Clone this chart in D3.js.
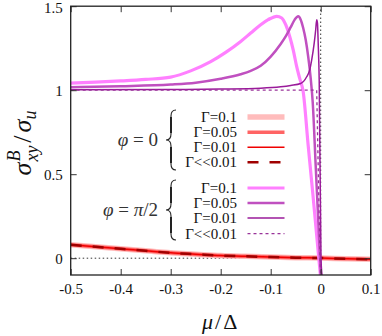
<!DOCTYPE html>
<html><head><meta charset="utf-8">
<script src="https://cdn.jsdelivr.net/npm/d3@7/dist/d3.min.js"></script>
<style>
html,body{margin:0;padding:0;background:#fff;}
svg{display:block;}
</style></head>
<body><svg id="c" width="382" height="336"></svg>
<script>
// ---- data ----
const xTicks = [-0.5, -0.4, -0.3, -0.2, -0.1, 0, 0.1];
const xTickLabels = ["-0.5", "-0.4", "-0.3", "-0.2", "-0.1", "0", "0.1"];
const yTicks = [0, 0.5, 1, 1.5];
const yTickLabels = ["0", "0.5", "1", "1.5"];

// phi = 0 (all four nearly coincide)
const muPhi0 = [-0.5, -0.45, -0.4, -0.35, -0.3, -0.25, -0.2, -0.15, -0.1, -0.05, 0, 0.05, 0.1];
const phi0_G01   = [0.080, 0.068, 0.056, 0.044, 0.032, 0.024, 0.016, 0.011, 0.007, 0.003, 0.001, -0.003, -0.006];
const phi0_G005  = [0.080, 0.068, 0.056, 0.044, 0.032, 0.024, 0.016, 0.011, 0.007, 0.003, 0.001, -0.003, -0.006];
const phi0_G001  = [0.080, 0.068, 0.056, 0.044, 0.032, 0.024, 0.016, 0.011, 0.007, 0.003, 0.001, -0.003, -0.006];
const phi0_Gzero = [0.080, 0.068, 0.056, 0.044, 0.032, 0.024, 0.016, 0.011, 0.007, 0.003, 0.001, -0.003, -0.006];

// phi = pi/2
const muPi2_G01 = [-0.5, -0.45, -0.4, -0.35, -0.3, -0.26, -0.22, -0.19, -0.16, -0.14, -0.12, -0.105, -0.088, -0.078, -0.07, -0.062, -0.055, -0.048, -0.042, -0.035, -0.025, -0.015, -0.005, 0.0];
const pi2_G01   = [1.042, 1.048, 1.055, 1.064, 1.078, 1.115, 1.17, 1.225, 1.29, 1.34, 1.39, 1.42, 1.44, 1.43, 1.39, 1.32, 1.24, 1.14, 1.07, 0.99, 0.67, 0.36, 0.04, -0.12];

const muPi2_G005 = [-0.5, -0.4, -0.3, -0.25, -0.2, -0.16, -0.14, -0.12, -0.1, -0.08, -0.07, -0.06, -0.052, -0.045, -0.04, -0.035, -0.03, -0.025, -0.02, -0.016, -0.01, -0.005, -0.0014, 0.001];
const pi2_G005   = [1.018, 1.024, 1.034, 1.045, 1.068, 1.095, 1.115, 1.145, 1.2, 1.275, 1.32, 1.375, 1.42, 1.44, 1.42, 1.37, 1.30, 1.20, 1.07, 0.93, 0.55, 0.23, 0.0, -0.13];

const muPi2_G001 = [-0.5, -0.3, -0.2, -0.12, -0.08, -0.06, -0.04, -0.028, -0.022, -0.018, -0.013, -0.01, -0.008, -0.0065, -0.005, -0.003, 0.0006, 0.0026];
const pi2_G001   = [1.002, 1.004, 1.007, 1.012, 1.02, 1.028, 1.04, 1.08, 1.12, 1.18, 1.28, 1.36, 1.42, 1.40, 1.28, 1.06, 0.0, -0.1];

const muPi2_Gzero = [-0.5, -0.008, -0.0014, -0.0004];
const pi2_Gzero   = [1.0, 1.0, 0.0, -0.1];

const legLabels = ["Γ=0.1", "Γ=0.05", "Γ=0.01", "Γ<<0.01"];

// ---- layout ----
const svg = d3.select("#c");
const L = 70.7, R = 370.7, T = 6.2, B = 275;
const x = d3.scaleLinear().domain([-0.5, 0.1]).range([L, R]);
const y = d3.scaleLinear().domain([-0.1, 1.5]).range([B, T]);
const FONT = "Liberation Serif";

svg.append("defs").append("clipPath").attr("id", "clip")
  .append("rect").attr("x", L).attr("y", T).attr("width", R - L).attr("height", B - T);

const plot = svg.append("g").attr("clip-path", "url(#clip)");

// reference dotted lines
plot.append("line").attr("x1", x(-0.5)).attr("x2", x(0.1)).attr("y1", y(0)).attr("y2", y(0))
  .attr("stroke", "#000").attr("stroke-width", 0.8).attr("stroke-dasharray", "1.5,2.5");
plot.append("line").attr("x1", x(0)).attr("x2", x(0)).attr("y1", y(-0.1)).attr("y2", y(1.5))
  .attr("stroke", "#000").attr("stroke-width", 0.8).attr("stroke-dasharray", "1.5,2.5");

function pairs(xs, ys) { return xs.map((v, i) => [v, ys[i]]); }
const lineSmooth = d3.line().x(d => x(d[0])).y(d => y(d[1])).curve(d3.curveMonotoneX);
const lineStraight = d3.line().x(d => x(d[0])).y(d => y(d[1]));

const series = [
  {xs: muPhi0, ys: phi0_G01,   color: "#ffbcbc", w: 5.5, dash: null, smooth: true},
  {xs: muPhi0, ys: phi0_G005,  color: "#ff6464", w: 3.5, dash: null, smooth: true},
  {xs: muPhi0, ys: phi0_G001,  color: "#f00000", w: 1.5, dash: null, smooth: true},
  {xs: muPhi0, ys: phi0_Gzero, color: "#a00000", w: 2.5, dash: "11,11", smooth: true},
  {xs: muPi2_G01,  ys: pi2_G01,  color: "#ff80ff", w: 3.2, dash: null, smooth: true},
  {xs: muPi2_G005, ys: pi2_G005, color: "#c050c0", w: 2.5, dash: null, smooth: true},
  {xs: muPi2_G001, ys: pi2_G001, color: "#9a1a9a", w: 1.5, dash: null, smooth: true},
  {xs: muPi2_Gzero, ys: pi2_Gzero, color: "#993399", w: 1.3, dash: "3,3", smooth: false}
];
series.forEach(s => {
  plot.append("path").datum(pairs(s.xs, s.ys))
    .attr("d", s.smooth ? lineSmooth : lineStraight)
    .attr("fill", "none").attr("stroke", s.color).attr("stroke-width", s.w)
    .attr("stroke-dasharray", s.dash);
});

// ---- axes ----
const fs = 15;
const ax = svg.append("g").attr("transform", `translate(0,${B})`)
  .call(d3.axisBottom(x).tickValues(xTicks).tickFormat((d, i) => xTickLabels[i]).tickSizeInner(-6).tickSizeOuter(0).tickPadding(8));
const axT = svg.append("g").attr("transform", `translate(0,${T})`)
  .call(d3.axisTop(x).tickValues(xTicks).tickFormat("").tickSizeInner(-6).tickSizeOuter(0));
const ay = svg.append("g").attr("transform", `translate(${L},0)`)
  .call(d3.axisLeft(y).tickValues(yTicks).tickFormat((d, i) => yTickLabels[i]).tickSizeInner(-6).tickSizeOuter(0).tickPadding(8));
const ayR = svg.append("g").attr("transform", `translate(${R},0)`)
  .call(d3.axisRight(y).tickValues(yTicks).tickFormat("").tickSizeInner(-6).tickSizeOuter(0));
[ax, axT, ay, ayR].forEach(g => {
  g.attr("font-family", null).attr("font-size", null);
  g.select(".domain").remove();
  g.selectAll("line").attr("stroke", "#333").attr("stroke-width", 1);
  g.selectAll("text").attr("font-family", FONT).attr("font-size", fs).attr("fill", "#111");
});
ay.selectAll("text").filter((d) => d === 1.5).attr("dy", "0.45em");
svg.append("rect").attr("x", L).attr("y", T).attr("width", R - L).attr("height", B - T)
  .attr("fill", "none").attr("stroke", "#222").attr("stroke-width", 1.3);

// ---- axis titles ----
const xt = svg.append("text").attr("x", (L + R) / 2 - 1).attr("y", 329).attr("text-anchor", "middle")
  .attr("font-family", FONT).attr("font-size", 22).attr("fill", "#111");
xt.append("tspan").attr("font-style", "italic").text("μ");
xt.append("tspan").attr("dx", 2).text("/");
xt.append("tspan").attr("dx", 2).text("Δ");

const yg = svg.append("g").attr("transform", "translate(31,143) rotate(-90)");
const yt = yg.append("text").attr("text-anchor", "middle").attr("font-family", FONT).attr("font-size", 26).attr("fill", "#111");
yt.append("tspan").attr("font-style", "italic").text("σ");
const tB = yt.append("tspan").attr("font-style", "italic").attr("font-size", 18).attr("dy", -11).attr("dx", 1).text("B");
const tXY = yt.append("tspan").attr("font-style", "italic").attr("font-size", 18).attr("dy", 18).text("xy");
tXY.attr("dx", -tB.node().getComputedTextLength());
yt.append("tspan").attr("dy", -7).attr("dx", 3).text("/");
yt.append("tspan").attr("font-style", "italic").attr("dx", 3).text("σ");
yt.append("tspan").attr("font-style", "italic").attr("font-size", 18).attr("dy", 5).text("u");

// ---- legend ----
const legRows0 = [117, 132.3, 147.3, 162.3];
const legRows1 = [188, 203, 218, 233.7];
const lg = svg.append("g");
function legendGroup(rows, startIdx) {
  rows.forEach((ry, i) => {
    const s = series[startIdx + i];
    lg.append("text").attr("x", 237).attr("y", ry).attr("dy", "0.33em").attr("text-anchor", "end")
      .attr("font-family", FONT).attr("font-size", fs).attr("fill", "#111").text(legLabels[i]);
    lg.append("line").attr("x1", 247.5).attr("x2", 284.5).attr("y1", ry).attr("y2", ry)
      .attr("stroke", s.color).attr("stroke-width", s.w).attr("stroke-dasharray", s.dash);
  });
}
legendGroup(legRows0, 0);
legendGroup(legRows1, 4);

function brace(xc, y0, y1) {
  const ym = (y0 + y1) / 2, d = 5;
  const p = `M${xc + d},${y0} Q${xc},${y0} ${xc},${y0 + 6} L${xc},${ym - 6} Q${xc},${ym} ${xc - d},${ym} Q${xc},${ym} ${xc},${ym + 6} L${xc},${y1 - 6} Q${xc},${y1} ${xc + d},${y1}`;
  lg.append("path").attr("d", p).attr("fill", "none").attr("stroke", "#222").attr("stroke-width", 1.1);
  // thicker straight arms like a TeX brace
  lg.append("path").attr("d", `M${xc},${y0 + 7} L${xc},${ym - 7} M${xc},${ym + 7} L${xc},${y1 - 7}`)
    .attr("fill", "none").attr("stroke", "#222").attr("stroke-width", 2);
}
brace(171, 110, 170);
brace(171, 180, 240);

function phiLabel(yc, rest) {
  const t = lg.append("text").attr("x", 158).attr("y", yc).attr("dy", "0.33em").attr("text-anchor", "end")
    .attr("font-family", FONT).attr("font-size", 19).attr("fill", "#333");
  t.append("tspan").attr("font-style", "italic").text("φ");
  t.append("tspan").text(" = ");
  rest(t);
}
phiLabel(139.5, t => t.append("tspan").text("0"));
phiLabel(210, t => { t.append("tspan").attr("font-style", "italic").text("π"); t.append("tspan").text("/2"); });
</script></body></html>
